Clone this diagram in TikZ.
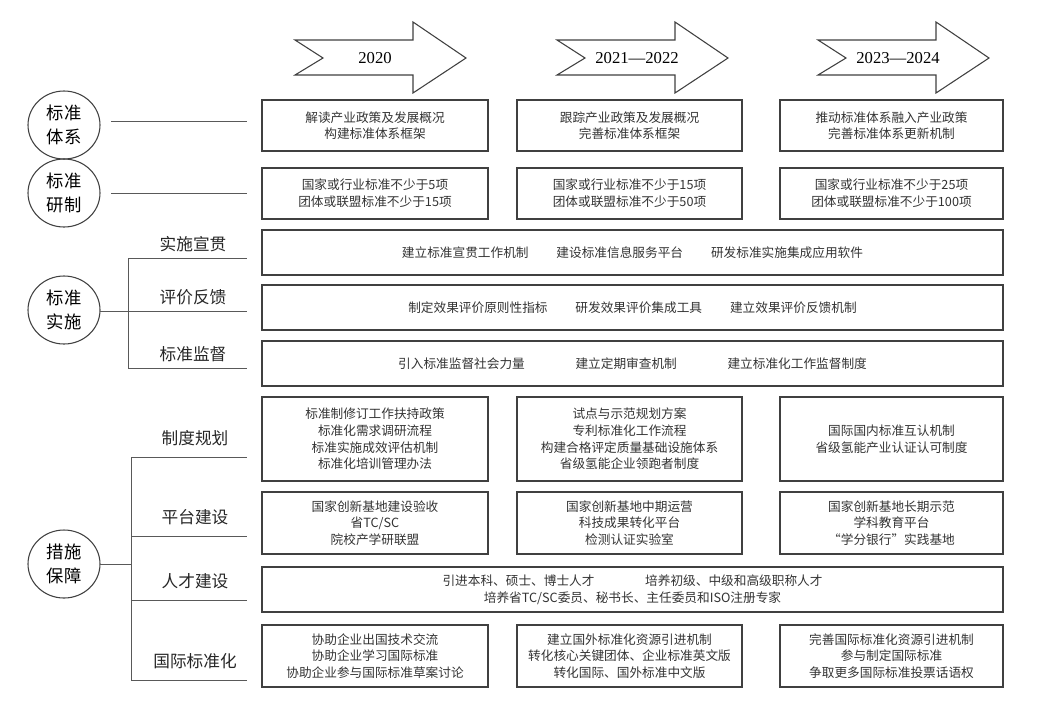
\documentclass[tikz,border=0pt]{standalone}
\usepackage{fontspec}
\setmainfont{Liberation Serif}
\newfontfamily\cjk{Noto Sans CJK SC}
\begin{document}
\begin{tikzpicture}[x=0.75pt,y=-0.75pt,
  box/.style={draw=black!75,line width=0.8pt,align=center,font=\cjk\fontsize{9.5}{12.5}\selectfont,text=black!80,inner sep=0pt},
  ctext/.style={font=\cjk\fontsize{13}{18}\selectfont,align=center},
  lbl/.style={font=\cjk\fontsize{12.5}{15}\selectfont,text=black!85,anchor=south},
  ln/.style={draw=black!65,line width=0.7pt},
  arr/.style={draw=black!75,line width=0.8pt,fill=white}]
\useasboundingbox (0,0) rectangle (1052,708);
% arrows
\foreach \x/\t/\n in {295/2020/a1,557/2021—2022/a2,818/2023—2024/a3}{
  \draw[arr] (\x,40) -- (\x+118,40) -- (\x+118,22) -- (\x+171,58) -- (\x+118,93) -- (\x+118,75) -- (\x,75) -- (\x+28,58) -- cycle;
  \node[font=\fontsize{12.5}{14}\selectfont] (\n) at (\x+80,58) {\t};
}
% circles
\foreach \y/\t/\n in {125/标准\\体系/c1,193/标准\\研制/c2,310/标准\\实施/c3,564/措施\\保障/c4}{
  \draw[black!75,line width=0.8pt] (64,\y) ellipse (36 and 34);
  \node[ctext] (\n) at (64,\y) {\t};
}
% row 1,2
\coordinate (l1a) at (111,121); \coordinate (l1b) at (247,121);
\draw[ln] (l1a) -- (l1b);
\coordinate (l2a) at (111,193); \coordinate (l2b) at (247,193);
\draw[ln] (l2a) -- (l2b);
\node[box,minimum width=226*0.75pt,minimum height=51*0.75pt] (b11) at (375,125.5) {解读产业政策及发展概况\\构建标准体系框架};
\node[box,minimum width=225*0.75pt,minimum height=51*0.75pt] (b12) at (629.5,125.5) {跟踪产业政策及发展概况\\完善标准体系框架};
\node[box,minimum width=223*0.75pt,minimum height=51*0.75pt] (b13) at (891.5,125.5) {推动标准体系融入产业政策\\完善标准体系更新机制};
\node[box,minimum width=226*0.75pt,minimum height=51*0.75pt] (b21) at (375,193.5) {国家或行业标准不少于5项\\团体或联盟标准不少于15项};
\node[box,minimum width=225*0.75pt,minimum height=51*0.75pt] (b22) at (629.5,193.5) {国家或行业标准不少于15项\\团体或联盟标准不少于50项};
\node[box,minimum width=223*0.75pt,minimum height=51*0.75pt] (b23) at (891.5,193.5) {国家或行业标准不少于25项\\团体或联盟标准不少于100项};
% 标准实施
\draw[ln] (100,311) -- (128,311);
\draw[ln] (128,258) -- (128,368);
\foreach \y/\t in {258/实施宣贯,311/评价反馈,368/标准监督}{
  \draw[ln] (128,\y) -- (247,\y);
  \node[lbl] at (193,\y-1) {\t};
}
\node[box,minimum width=741*0.75pt,minimum height=45*0.75pt] (w1) at (632.5,252.5) {建立标准宣贯工作机制\hspace{2.2em}建设标准信息服务平台\hspace{2.2em}研发标准实施集成应用软件};
\node[box,minimum width=741*0.75pt,minimum height=45*0.75pt] (w2) at (632.5,307.5) {制定效果评价原则性指标\hspace{2.2em}研发效果评价集成工具\hspace{2.2em}建立效果评价反馈机制};
\node[box,minimum width=741*0.75pt,minimum height=45*0.75pt] (w3) at (632.5,363.5) {引入标准监督社会力量\hspace{4em}建立定期审查机制\hspace{4em}建立标准化工作监督制度};
% 措施保障
\draw[ln] (100,564) -- (131,564);
\draw[ln] (131,457) -- (131,680);
\foreach \y/\t in {457/制度规划,536/平台建设,600/人才建设,680/国际标准化}{
  \draw[ln] (131,\y) -- (247,\y);
  \node[lbl] at (195,\y-6) {\t};
}
\node[box,minimum width=226*0.75pt,minimum height=84*0.75pt] (p11) at (375,439) {标准制修订工作扶持政策\\标准化需求调研流程\\标准实施成效评估机制\\标准化培训管理办法};
\node[box,minimum width=225*0.75pt,minimum height=84*0.75pt] (p12) at (629.5,439) {试点与示范规划方案\\专利标准化工作流程\\构建合格评定质量基础设施体系\\省级氢能企业领跑者制度};
\node[box,minimum width=223*0.75pt,minimum height=84*0.75pt] (p13) at (891.5,439) {国际国内标准互认机制\\省级氢能产业认证认可制度};
\node[box,minimum width=226*0.75pt,minimum height=62*0.75pt] (p21) at (375,523) {国家创新基地建设验收\\省TC/SC\\院校产学研联盟};
\node[box,minimum width=225*0.75pt,minimum height=62*0.75pt] (p22) at (629.5,523) {国家创新基地中期运营\\科技成果转化平台\\检测认证实验室};
\node[box,minimum width=223*0.75pt,minimum height=62*0.75pt] (p23) at (891.5,523) {国家创新基地长期示范\\学科教育平台\\“学分银行”实践基地};
\node[box,minimum width=741*0.75pt,minimum height=45*0.75pt] (p3) at (632.5,589.5) {引进本科、硕士、博士人才\hspace{4em}培养初级、中级和高级职称人才\\培养省TC/SC委员、秘书长、主任委员和ISO注册专家};
\node[box,minimum width=226*0.75pt,minimum height=62*0.75pt] (p41) at (375,656) {协助企业出国技术交流\\协助企业学习国际标准\\协助企业参与国际标准草案讨论};
\node[box,minimum width=225*0.75pt,minimum height=62*0.75pt] (p42) at (629.5,656) {建立国外标准化资源引进机制\\转化核心关键团体、企业标准英文版\\转化国际、国外标准中文版};
\node[box,minimum width=223*0.75pt,minimum height=62*0.75pt] (p43) at (891.5,656) {完善国际标准化资源引进机制\\参与制定国际标准\\争取更多国际标准投票话语权};
\end{tikzpicture}
\end{document}
